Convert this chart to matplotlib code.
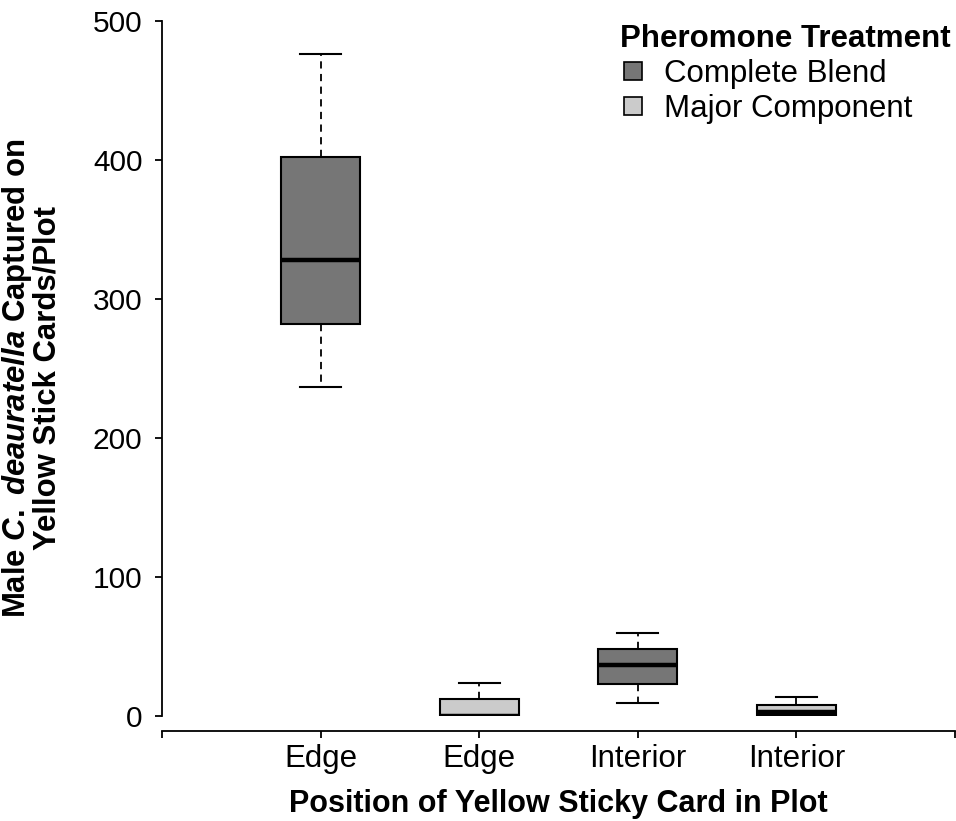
"""Box plot of male C. deauratella captures by card position and pheromone treatment."""

import matplotlib

matplotlib.use("Agg")

import matplotlib.pyplot as plt
from matplotlib.lines import Line2D

plt.rcParams["font.family"] = ["Liberation Sans", "DejaVu Sans"]
plt.rcParams["mathtext.fontset"] = "custom"
plt.rcParams["mathtext.rm"] = "Liberation Sans:bold"
plt.rcParams["mathtext.it"] = "Liberation Sans:italic:bold"
plt.rcParams["mathtext.bf"] = "Liberation Sans:bold"

# values
positions = ["Edge", "Edge", "Interior", "Interior"]
treatments = ["Complete Blend", "Major Component", "Complete Blend", "Major Component"]
whisker_low = [237, 0, 9, 0]
q1 = [282, 0, 23, 1]
median = [328, 0, 37, 3]
q3 = [402, 12, 48, 8]
whisker_high = [476, 24, 60, 14]

treatment_colors = {"Complete Blend": "#767676", "Major Component": "#cbcbcb"}

stats = [
    dict(whislo=lo, q1=a, med=m, q3=b, whishi=hi, fliers=[])
    for lo, a, m, b, hi in zip(whisker_low, q1, median, q3, whisker_high)
]

fig = plt.figure(figsize=(9.56, 8.21), dpi=100)
ax = fig.add_axes([162 / 956, (821 - 716) / 821, (955 - 162) / 956, (716 - 21) / 821])

bp = ax.bxp(
    stats,
    positions=range(1, len(stats) + 1),
    widths=0.5,
    capwidths=0.26,
    patch_artist=True,
    showfliers=False,
    boxprops=dict(edgecolor="black", linewidth=1.5),
    medianprops=dict(color="black", linewidth=3.2, solid_capstyle="butt"),
    whiskerprops=dict(color="black", linestyle=(0, (4, 3)), linewidth=1.3),
    capprops=dict(color="black", linewidth=1.5),
)
for patch, t in zip(bp["boxes"], treatments):
    patch.set_facecolor(treatment_colors[t])

ax.set_xlim(0, 5)
ax.set_ylim(0, 500)

for side in ("top", "right"):
    ax.spines[side].set_visible(False)
ax.spines["bottom"].set_position(("outward", 11))
ax.spines["bottom"].set_bounds(0, 5)
ax.spines["left"].set_bounds(0, 500)
for side in ("bottom", "left"):
    ax.spines[side].set_linewidth(1.3)

ax.set_xticks(range(0, 6))
ax.set_xticklabels([""] + positions + [""])
ax.set_yticks([0, 100, 200, 300, 400, 500])
ax.tick_params(axis="both", length=5, width=1.3)
ax.tick_params(axis="x", labelsize=22.5, pad=4)
ax.tick_params(axis="y", labelsize=21.5, pad=9)

ax.set_xlabel("Position of Yellow Sticky Card in Plot", fontsize=22, fontweight="bold", labelpad=11)
ax.set_ylabel(
    "Male $\\it{C.}$ $\\it{deauratella}$ Captured on\nYellow Stick Cards/Plot",
    fontsize=22.4,
    fontweight="bold",
    linespacing=0.95,
)
ax.yaxis.set_label_coords(-0.125, 0.486)

handles = [
    Line2D([], [], marker="s", linestyle="none", markersize=13.5, markerfacecolor=treatment_colors[t],
           markeredgecolor="black", markeredgewidth=1.2, label=t)
    for t in ["Complete Blend", "Major Component"]
]
leg = ax.legend(
    handles=handles,
    title="Pheromone Treatment",
    loc="upper right",
    bbox_to_anchor=(0.995, 0.995),
    frameon=False,
    fontsize=22.5,
    title_fontproperties=dict(weight="bold", size=22.5),
    handlelength=0.8,
    handletextpad=0.6,
    labelspacing=0.15,
    borderaxespad=0.0,
    borderpad=0.0,
)
leg._legend_box.align = "left"

fig.savefig("out.png", dpi=100)
